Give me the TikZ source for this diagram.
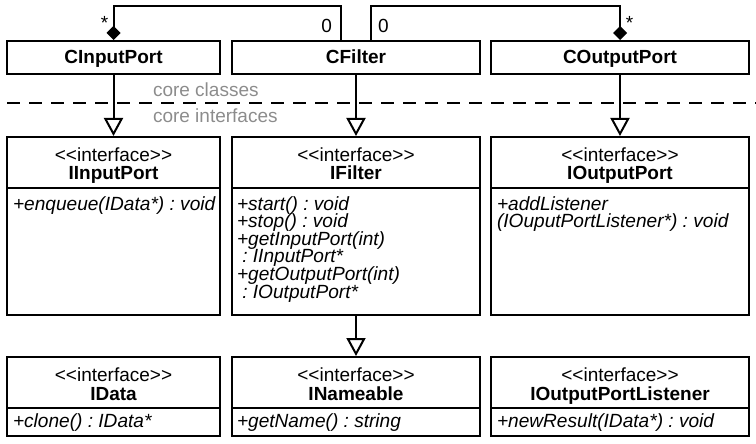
\documentclass[tikz,border=0pt]{standalone}
\usepackage{fontspec}
\setmainfont{Liberation Sans}[Ligatures=TeXOff]
\usetikzlibrary{arrows.meta}
\definecolor{notegray}{RGB}{140,140,140}
\frenchspacing
\begin{document}
\frenchspacing
\begin{tikzpicture}[x=1pt,y=-1pt,line width=2pt,
  cls/.style={draw=black, line width=2pt, inner sep=0pt, fill=white},
  txt/.style={inner sep=0pt, font=\fontsize{19}{17.6}\selectfont},
  stereo/.style={txt, anchor=base},
  cname/.style={inner sep=0pt, anchor=base, font=\fontsize{19}{17.6}\selectfont\bfseries},
  op/.style={inner sep=0pt, anchor=base west, font=\fontsize{19.1}{17.6}\selectfont\itshape},
  note/.style={txt, anchor=base west, text=notegray},
  mult/.style={txt},
  inherit/.style={-{Triangle[open, length=18pt, width=19pt]}},
  compose/.style={-{Diamond[length=14pt, width=14pt]}},
  sep/.style={line width=2pt, dash pattern=on 13pt off 9pt}
]
\useasboundingbox (0,0) rectangle (756,444);

% separator between layers
\draw[sep] (7,103) -- (756,103);
\node[note] (lblc) at (152,96.5) {core classes};
\node[note] (lbli) at (152,123) {core interfaces};

% row 1: core classes
\node[cls, minimum width=213pt, minimum height=33pt] (cin) at (113.5,57.5) {};
\node[cls, minimum width=248pt, minimum height=33pt] (cfil) at (356,57.5) {};
\node[cls, minimum width=258pt, minimum height=33pt] (cout) at (620,57.5) {};
\node[cname] (cinT) at (113.5,64) {CInputPort};
\node[cname] (cfilT) at (356,64) {CFilter};
\node[cname] (coutT) at (620,64) {COutputPort};

% row 2: interfaces
\node[cls, minimum width=213pt, minimum height=178pt] (iin) at (113.5,226) {};
\node[cls, minimum width=248pt, minimum height=178pt] (iflt) at (356,226) {};
\node[cls, minimum width=258pt, minimum height=178pt] (iout) at (620,226) {};
\draw (iin.west |- 0,188) -- (iin.east |- 0,188);
\draw (iflt.west |- 0,188) -- (iflt.east |- 0,188);
\draw (iout.west |- 0,188) -- (iout.east |- 0,188);

\node[stereo] (iinS) at (113.5,161) {<<interface>>};
\node[cname] (iinT) at (113.5,179.5) {IInputPort};
\node[op] (iinO1) at (12,210) {+enqueue(IData*) : void};

\node[stereo] (ifltS) at (356,161) {<<interface>>};
\node[cname] (ifltT) at (356,179.5) {IFilter};
\node[op] (ifltO1) at (236,210) {+start() : void};
\node[op] (ifltO2) at (236,227.6) {+stop() : void};
\node[op] (ifltO3) at (236,245.2) {+getInputPort(int)};
\node[op] (ifltO4) at (236,262.8) {\ : IInputPort*};
\node[op] (ifltO5) at (236,280.4) {+getOutputPort(int)};
\node[op] (ifltO6) at (236,298) {\ : IOutputPort*};

\node[stereo] (ioutS) at (620,161) {<<interface>>};
\node[cname] (ioutT) at (620,179.5) {IOutputPort};
\node[op] (ioutO1) at (496,210) {+addListener};
\node[op] (ioutO2) at (496,227.6) {(IOuputPortListener*) : void};

% row 3
\node[cls, minimum width=213pt, minimum height=79pt] (idat) at (113.5,396.5) {};
\node[cls, minimum width=248pt, minimum height=79pt] (inam) at (356,396.5) {};
\node[cls, minimum width=258pt, minimum height=79pt] (ilis) at (620,396.5) {};
\draw (idat.west |- 0,408) -- (idat.east |- 0,408);
\draw (inam.west |- 0,408) -- (inam.east |- 0,408);
\draw (ilis.west |- 0,408) -- (ilis.east |- 0,408);

\node[stereo] (idatS) at (113.5,381.5) {<<interface>>};
\node[cname] (idatT) at (113.5,400) {IData};
\node[op] (idatO1) at (12,427) {+clone() : IData*};

\node[stereo] (inamS) at (356,381.5) {<<interface>>};
\node[cname] (inamT) at (356,400) {INameable};
\node[op] (inamO1) at (236,427) {+getName() : string};

\node[stereo] (ilisS) at (620,381.5) {<<interface>>};
\node[cname] (ilisT) at (620,400) {IOutputPortListener};
\node[op] (ilisO1) at (496,427) {+newResult(IData*) : void};

% realisation arrows
\draw[inherit] (cin.south) -- (iin.north);
\draw[inherit] (cfil.south) -- (iflt.north);
\draw[inherit] (cout.south) -- (iout.north);
\draw[inherit] (iflt.south) -- (inam.north);

% compositions
\draw[compose] ([xshift=-15pt]cfil.north) -- ++(0,-34) -| (cin.north);
\draw[compose] ([xshift=15pt]cfil.north) -- ++(0,-34) -| (cout.north);
\node[mult, anchor=base east] (m0l) at (333,33) {0};
\node[mult, anchor=base west] (m0r) at (377,33) {0};
\node[mult] (msl) at (104.5,22.5) {*};
\node[mult] (msr) at (629.5,22.5) {*};
\end{tikzpicture}
\end{document}
